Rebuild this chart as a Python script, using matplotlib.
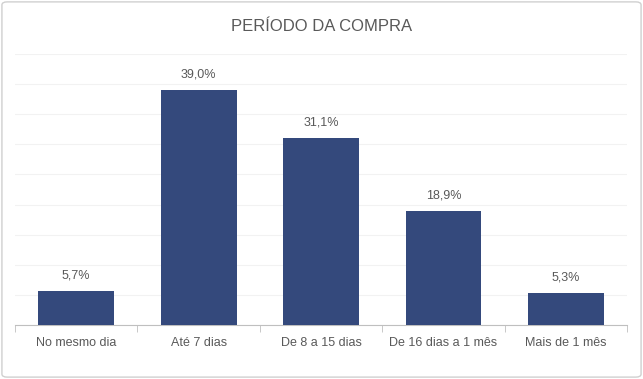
import numpy as np
import matplotlib
matplotlib.use('Agg')
import matplotlib.pyplot as plt
from matplotlib.patches import FancyBboxPatch

plt.rcParams['font.family'] = ['Liberation Sans', 'DejaVu Sans']

categories = ['No mesmo dia', 'Até 7 dias', 'De 8 a 15 dias', 'De 16 dias a 1 mês', 'Mais de 1 mês']
values = [5.7, 39.0, 31.1, 18.9, 5.3]
labels = ['5,7%', '39,0%', '31,1%', '18,9%', '5,3%']

bar_color = '#34497c'
text_color = '#595959'
grid_color = '#f2f2f2'

fig = plt.figure(figsize=(6.43, 3.79), dpi=100)
ax = fig.add_axes([0.0233, 0.1425, 0.952, 0.715])

x = np.arange(len(categories))
ax.bar(x, values, width=0.62, color=bar_color, zorder=3)
for xi, v, lab in zip(x, values, labels):
    ax.text(xi, v + 1.6, lab, ha='center', va='bottom', fontsize=9, color=text_color)

ax.set_xlim(-0.5, len(categories) - 0.5)
ax.set_ylim(0, 45)
ax.set_yticks(np.arange(0, 46, 5))
ax.yaxis.grid(True, color=grid_color, linewidth=0.8, zorder=0)
ax.tick_params(axis='y', left=False, labelleft=False)

ax.set_xticks(x)
ax.set_xticklabels(categories, fontsize=9, color=text_color)
ax.set_xticks(np.arange(-0.5, len(categories), 1), minor=True)
ax.tick_params(axis='x', which='major', length=0, pad=9)
ax.tick_params(axis='x', which='minor', length=5, color='#bfbfbf', direction='out')

for s in ['top', 'right', 'left']:
    ax.spines[s].set_visible(False)
ax.spines['bottom'].set_color('#bfbfbf')

fig.text(0.5, 0.93, 'PERÍODO DA COMPRA', ha='center', va='center', fontsize=12, color=text_color)

border = FancyBboxPatch((0.003, 0.005), 0.994, 0.99, boxstyle='round,pad=0,rounding_size=0.008',
                        transform=fig.transFigure, fill=False, edgecolor='#d0d0d0', linewidth=1)
fig.patches.append(border)

fig.savefig('out.png', dpi=100)
